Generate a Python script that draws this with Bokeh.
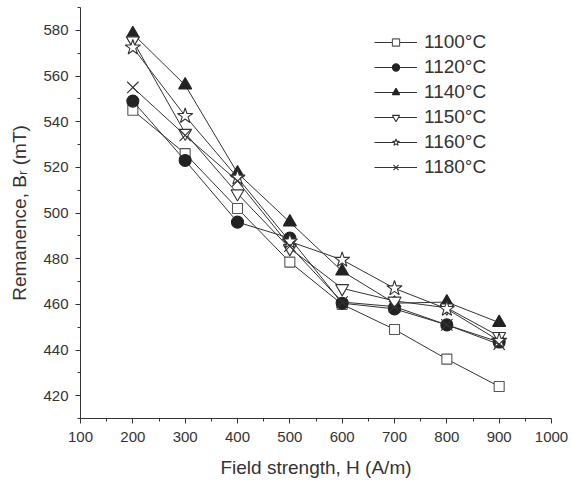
from bokeh.plotting import figure
from bokeh.models import Legend, LegendItem, FixedTicker
from bokeh.embed import file_html
from bokeh.resources import INLINE

# ---- data ----
field = [200, 300, 400, 500, 600, 700, 800, 900]
series_labels = ["1100°C", "1120°C", "1140°C", "1150°C", "1160°C", "1180°C"]
br_1100 = [545, 526, 502, 478.5, 460, 449, 436, 424]
br_1120 = [549, 523, 496, 489, 460.5, 458, 451, 443.5]
br_1140 = [578.5, 556, 517.5, 496, 474.5, 460.5, 461, 452]
br_1150 = [575.5, 535, 508.5, 484.5, 467, 461.5, 458.5, 446]
br_1160 = [572.5, 542.5, 515.5, 487.5, 479.5, 467, 458, 444]
br_1180 = [555, 534, 514, 485.5, 461, 459, 451, 442.5]
x_ticks = [100, 200, 300, 400, 500, 600, 700, 800, 900, 1000]
x_minor = [150, 250, 350, 450, 550, 650, 750, 850, 950]
y_ticks = [420, 440, 460, 480, 500, 520, 540, 560, 580]
y_minor = [410, 430, 450, 470, 490, 510, 530, 550, 570, 590]

series = [br_1100, br_1120, br_1140, br_1150, br_1160, br_1180]
markers = ["square", "circle", "triangle", "inverted_triangle", "star", "x"]
sizes = [10, 12, 13, 13, 16, 16]
fills = ["white", "#222222", "#222222", "white", "white", "#222222"]
outlines = ["#555555", "#222222", "#222222", "#333333", "#333333", "#333333"]

FONT = "Liberation Sans"
TXT = "#333333"

p = figure(width=571, height=487, x_range=(100, 1000), y_range=(410, 590),
           output_backend="svg", toolbar_location=None,
           min_border_left=80, min_border_right=20, min_border_top=7,
           min_border_bottom=69)
p.outline_line_color = None
p.xgrid.visible = False
p.ygrid.visible = False
p.background_fill_color = "white"
p.border_fill_color = "white"

items = []
for lab, ys, m, s, f, o in zip(series_labels, series, markers, sizes, fills, outlines):
    ln = p.line(field, ys, line_color="#333333", line_width=1)
    sc = p.scatter(field, ys, marker=m, size=s, fill_color=f, line_color=o, line_width=1.1)
    items.append(LegendItem(label=lab, renderers=[ln, sc]))

legend = Legend(items=items, location=(294, 240), orientation="vertical")
legend.background_fill_alpha = 0
legend.border_line_color = None
legend.padding = 0
legend.margin = 0
legend.spacing = 3
legend.glyph_width = 43
legend.glyph_height = 18
legend.label_height = 18
legend.label_standoff = 7
legend.label_text_font = FONT
legend.label_text_font_size = "19px"
legend.label_text_color = TXT
p.add_layout(legend, "center")

for ax in (p.xaxis[0], p.yaxis[0]):
    ax.axis_line_color = TXT
    ax.major_tick_line_color = TXT
    ax.minor_tick_line_color = TXT
    ax.major_tick_in = 0
    ax.minor_tick_in = 0
    ax.major_tick_out = 5
    ax.minor_tick_out = 3
    ax.major_label_text_font = FONT
    ax.major_label_text_font_size = "15px"
    ax.major_label_text_color = TXT
    ax.axis_label_text_font = FONT
    ax.axis_label_text_font_size = "19px"
    ax.axis_label_text_font_style = "normal"
    ax.axis_label_text_color = TXT

p.xaxis.ticker = FixedTicker(ticks=x_ticks, minor_ticks=x_minor)
p.yaxis.ticker = FixedTicker(ticks=y_ticks, minor_ticks=y_minor)
p.xaxis.axis_label = "Field strength, H (A/m)"
p.yaxis.axis_label = "Remanence, B\u1d63 (mT)"
p.xaxis.major_label_standoff = 8
p.yaxis.major_label_standoff = 7
p.xaxis.axis_label_standoff = 12
p.yaxis.axis_label_standoff = 10

open("out.html", "w").write(file_html(p, INLINE))
